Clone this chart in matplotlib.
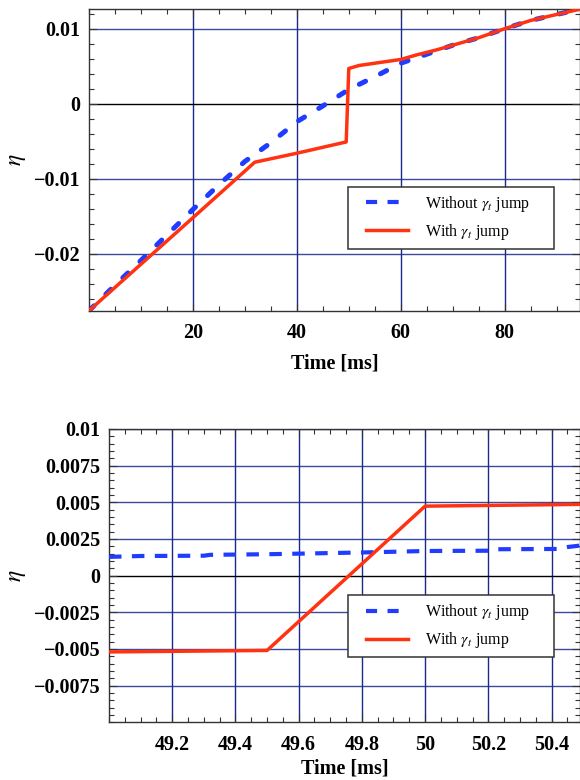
import matplotlib
matplotlib.use("Agg")
import matplotlib.pyplot as plt
from matplotlib.ticker import FixedLocator, MultipleLocator
from matplotlib.legend_handler import HandlerLine2D
from matplotlib.lines import Line2D

plt.rcParams['mathtext.fontset'] = 'stix'
plt.rcParams['lines.scale_dashes'] = False
plt.rcParams['font.family'] = ['Liberation Serif', 'DejaVu Serif']

# ---------------- data ----------------
top_t_without = [0, 5, 10, 15, 20, 25, 30, 35, 40, 45, 50, 55, 60, 65, 70, 75, 80, 85, 90, 94.5]
top_eta_without = [-0.0276, -0.0242, -0.0209, -0.0175, -0.0141, -0.0108, -0.0077, -0.0052, -0.0024,
                   -0.0003, 0.0019, 0.0036, 0.0054, 0.0066, 0.0078, 0.0088, 0.0100, 0.0111, 0.0119, 0.0126]
top_t_with = [0, 10, 20, 31.9, 40, 49.5, 50.0, 52, 55, 60, 63, 67, 70, 75, 80, 85, 90, 94.5]
top_eta_with = [-0.0276, -0.0214, -0.0152, -0.0078, -0.0066, -0.0051, 0.0047, 0.0051, 0.0054, 0.0059,
                0.0065, 0.0072, 0.0078, 0.0088, 0.0100, 0.0111, 0.0119, 0.0126]

bot_t_without = [49.0, 49.1, 49.3, 49.32, 49.5, 49.8, 50.0, 50.2, 50.22, 50.42, 50.45, 50.49]
bot_eta_without = [0.00128, 0.00134, 0.00136, 0.00142, 0.00146, 0.00158, 0.00168, 0.00170,
                   0.00180, 0.00182, 0.00195, 0.00205]
bot_t_with = [49.0, 49.5, 50.0, 50.49]
bot_eta_with = [-0.0052, -0.0051, 0.00474, 0.00486]

top_xticks = [20, 40, 60, 80]
top_xticklabels = ['20', '40', '60', '80']
top_yticks = [-0.02, -0.01, 0, 0.01]
top_yticklabels = ['\u22120.02', '\u22120.01', '0', '0.01']

bot_xticks = [49.2, 49.4, 49.6, 49.8, 50.0, 50.2, 50.4]
bot_xticklabels = ['49.2', '49.4', '49.6', '49.8', '50', '50.2', '50.4']
bot_yticks = [-0.0075, -0.005, -0.0025, 0, 0.0025, 0.005, 0.0075, 0.01]
bot_yticklabels = ['\u22120.0075', '\u22120.005', '\u22120.0025', '0', '0.0025', '0.005', '0.0075', '0.01']

label_without = r'Without $\gamma_t$ jump'
label_with = r'With $\gamma_t$ jump'

BLUE = '#1f3cff'
RED = '#ff3311'
GRID = '#1a2a8c'

fig = plt.figure(figsize=(5.8, 7.8), dpi=100)
ax1 = fig.add_axes([89/580, 1-311/780, 1-89/580, (311-9)/780])
ax2 = fig.add_axes([109/580, 1-722.3/780, 1-109/580, (722.3-429)/780])


def style(ax, xt, xtl, yt, ytl, xminor, yminor, xlim, ylim, xlabelpad):
    ax.set_xlim(*xlim)
    ax.set_ylim(*ylim)
    ax.xaxis.set_major_locator(FixedLocator(xt))
    ax.set_xticklabels(xtl)
    ax.yaxis.set_major_locator(FixedLocator(yt))
    ax.set_yticklabels(ytl)
    ax.xaxis.set_minor_locator(MultipleLocator(xminor))
    ax.yaxis.set_minor_locator(MultipleLocator(yminor))
    ax.tick_params(which='both', direction='in', top=True, right=True, colors='#333333',
                   labelcolor='black')
    ax.tick_params(which='major', length=6, width=0.8, labelsize=14.5)
    ax.tick_params(axis='x', which='major', pad=9)
    ax.tick_params(axis='y', which='major', pad=6)
    ax.tick_params(which='minor', length=3.5, width=0.8)
    for lab in ax.get_xticklabels() + ax.get_yticklabels():
        lab.set_fontweight('bold')
    for v in xt:
        ax.axvline(v, color=GRID, lw=1.0, zorder=1)
    for v in yt:
        if v == 0:
            ax.axhline(0, color='black', lw=1.0, zorder=1)
        else:
            ax.axhline(v, color=GRID, lw=1.0, zorder=1, alpha=0.85)
    for s in ax.spines.values():
        s.set_color('#333333')
        s.set_linewidth(1.0)
    ax.set_xlabel('Time [ms]', fontsize=14.5, fontweight='bold', labelpad=xlabelpad)
    ax.set_ylabel(r'$\eta$', fontsize=17, labelpad=4)


style(ax1, top_xticks, top_xticklabels, top_yticks, top_yticklabels, 5, 0.002,
      (0, 94.5), (-0.02764, 0.01263), 7)
style(ax2, bot_xticks, bot_xticklabels, bot_yticks, bot_yticklabels, 0.05, 0.0005,
      (49.0, 50.49), (-0.01, 0.01), 3)

ax1.plot(top_t_without, top_eta_without, color=BLUE, lw=3.6, dashes=(5, 12),
         dash_capstyle='round', label=label_without, zorder=3)
ax1.plot(top_t_with, top_eta_with, color=RED, lw=2.5, label=label_with, zorder=4)

ax2.plot(bot_t_without, bot_eta_without, color=BLUE, lw=3.0, dashes=(9, 7.5),
         dash_capstyle='butt', label=label_without, zorder=3)
ax2.plot(bot_t_with, bot_eta_with, color=RED, lw=2.5, label=label_with, zorder=4)

# legend handles (dashes shorter in legend, shifted right inside the box)
h_without = Line2D([], [], color=BLUE, lw=3.0, dashes=(8, 7.5), dash_capstyle='butt')
h_with = Line2D([], [], color=RED, lw=2.5)
hmap = {h_without: HandlerLine2D(xpad=0.65), h_with: HandlerLine2D(xpad=0.65)}

for ax, anchor in ((ax1, (0.5275, 0.0, 206/491, 0.4116)), (ax2, (0.5074, 0.0, 206/471, 0.434))):
    leg = ax.legend([h_without, h_with], [label_without, label_with], handler_map=hmap,
                    loc='upper left', bbox_to_anchor=anchor, mode='expand', fontsize=11.5,
                    frameon=True, fancybox=False, handlelength=3.3, handletextpad=1.1,
                    borderpad=0.45, labelspacing=0.5, borderaxespad=0,
                    edgecolor='#333333')
    leg.get_frame().set_linewidth(1.1)
    leg.get_frame().set_alpha(1.0)
    leg.set_zorder(10)

fig.savefig('out.png', dpi=100)
